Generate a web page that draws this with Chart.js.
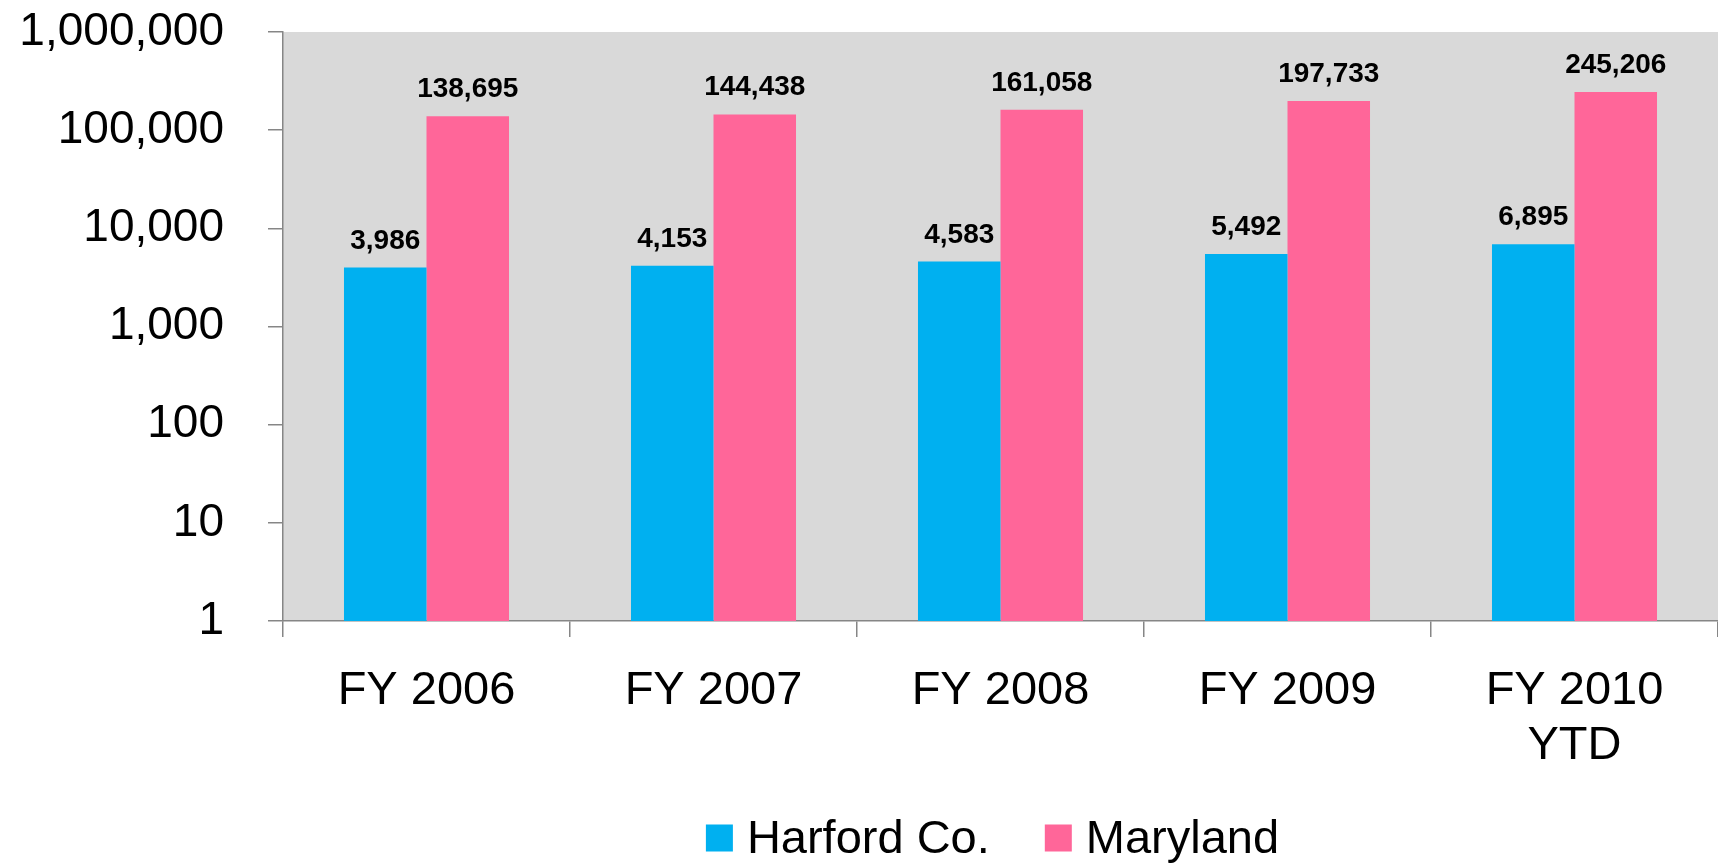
<!DOCTYPE html>
<html>
<head>
<meta charset="utf-8">
<script src="https://cdn.jsdelivr.net/npm/chart.js@4/dist/chart.umd.min.js"></script>
<style>
  html, body { margin: 0; padding: 0; background: #fff; }
  #wrap { width: 1718px; height: 865px; }
</style>
</head>
<body>
<div id="wrap"><canvas id="chart" width="1718" height="865"></canvas></div>
<script>
const categories = ['FY 2006', 'FY 2007', 'FY 2008', 'FY 2009', ['FY 2010', 'YTD']];
const harford = [3986, 4153, 4583, 5492, 6895];
const maryland = [138695, 144438, 161058, 197733, 245206];
const yTicks = [1, 10, 100, 1000, 10000, 100000, 1000000];

const FONT = '"Liberation Sans", Arial, sans-serif';
const AXIS_GRAY = '#868686';

// gray plot background
const plotBg = {
    id: 'plotBg',
    beforeDraw(chart) {
        const { ctx, chartArea: a } = chart;
        ctx.save();
        ctx.fillStyle = '#d9d9d9';
        ctx.fillRect(a.left, a.top, a.right - a.left, a.bottom - a.top);
        ctx.restore();
    }
};

// value labels above bars
const valueLabels = {
    id: 'valueLabels',
    afterDatasetsDraw(chart) {
        const ctx = chart.ctx;
        ctx.save();
        ctx.font = 'bold 28px ' + FONT;
        ctx.fillStyle = '#000';
        ctx.textAlign = 'center';
        ctx.textBaseline = 'alphabetic';
        chart.data.datasets.forEach((ds, i) => {
            chart.getDatasetMeta(i).data.forEach((bar, j) => {
                ctx.fillText(ds.data[j].toLocaleString('en-US'), bar.x, bar.y - 19);
            });
        });
        ctx.restore();
    }
};

// legend under the plot: square swatch, tight gap, centered on the plot area
const bottomLegend = {
    id: 'bottomLegend',
    afterDraw(chart) {
        const { ctx, chartArea: a } = chart;
        const box = 27, gap = 14, itemGap = 55, cy = 838;
        ctx.save();
        ctx.font = '47px ' + FONT;
        ctx.textBaseline = 'middle';
        const items = chart.data.datasets.map(ds => ({
            text: ds.label, color: ds.backgroundColor, w: ctx.measureText(ds.label).width
        }));
        const total = items.reduce((s, it) => s + box + gap + it.w, 0) + itemGap * (items.length - 1);
        let x = (a.left + a.right) / 2 - 8 - total / 2;
        items.forEach(it => {
            ctx.fillStyle = it.color;
            ctx.fillRect(x, cy - box / 2, box, box);
            ctx.fillStyle = '#000';
            ctx.fillText(it.text, x + box + gap, cy + 2);
            x += box + gap + it.w + itemGap;
        });
        ctx.restore();
    }
};

new Chart(document.getElementById('chart'), {
    type: 'bar',
    data: {
        labels: categories,
        datasets: [
            { label: 'Harford Co.', data: harford, backgroundColor: '#00b0f0' },
            { label: 'Maryland', data: maryland, backgroundColor: '#ff6699' }
        ]
    },
    options: {
        responsive: false,
        animation: false,
        layout: { padding: { top: 32, right: 0, left: 0, bottom: 84 } },
        datasets: { bar: { categoryPercentage: 0.575, barPercentage: 1.0 } },
        scales: {
            x: {
                grid: { offset: true, drawOnChartArea: false, color: AXIS_GRAY, tickLength: 16, lineWidth: 1.5 },
                border: { color: AXIS_GRAY, width: 1.5 },
                ticks: { color: '#000', font: { family: FONT, size: 47, lineHeight: 1.17 }, padding: 27, maxRotation: 0 },
                afterFit(scale) { scale.height = 160; }
            },
            y: {
                type: 'logarithmic',
                min: 1,
                max: 1000000,
                grid: { drawOnChartArea: false, color: AXIS_GRAY, tickLength: 15, lineWidth: 1.5 },
                border: { color: AXIS_GRAY, width: 1.5 },
                ticks: {
                    color: '#000',
                    font: { family: FONT, size: 46 },
                    padding: 44,
                    callback: v => Number(v).toLocaleString('en-US')
                },
                afterBuildTicks(scale) { scale.ticks = yTicks.map(v => ({ value: v })); },
                afterFit(scale) {
                    scale.width = 283;
                    // tick padding would otherwise push the plot top down
                    scale.paddingTop = 0;
                    scale.paddingBottom = 0;
                }
            }
        },
        plugins: {
            legend: { display: false },
            tooltip: { enabled: false }
        }
    },
    plugins: [plotBg, valueLabels, bottomLegend]
});
</script>
</body>
</html>
